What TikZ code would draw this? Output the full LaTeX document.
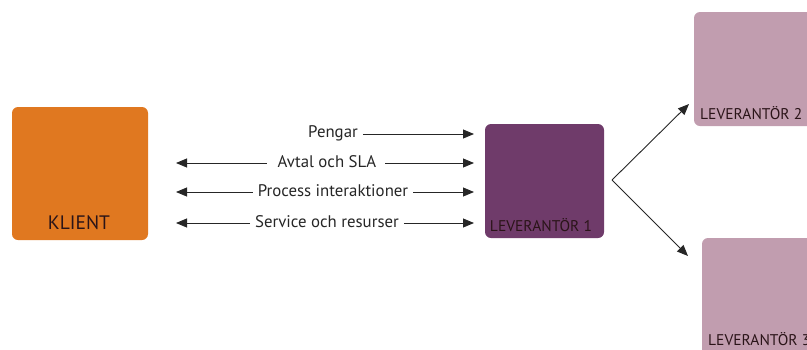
\documentclass[tikz,border=0pt]{standalone}
\usepackage{fontspec}
\setmainfont{PT Sans}
\usetikzlibrary{arrows.meta}
\definecolor{orangebox}{HTML}{E07820}
\definecolor{purplebox}{HTML}{6F3B6A}
\definecolor{pinkbox}{HTML}{C19DAF}
\definecolor{txtdark}{HTML}{2A1418}
\begin{document}
\begin{tikzpicture}[x=1pt,y=-1pt,
  box/.style={rounded corners=6pt,draw=none},
  lbl/.style={font=\fontsize{16.8}{18}\selectfont,text=black!85,inner sep=0pt,outer sep=5pt,anchor=center},
  boxlbl/.style={font=\fontsize{15.5}{17}\selectfont,text=txtdark,inner sep=0pt},
  arr/.style={-{Triangle[length=11pt,width=9pt]},line width=0.9pt,draw=black!85}]
\useasboundingbox (0,0) rectangle (807,349);
% boxes
\fill[box,orangebox] (12,107) rectangle (148,240);
\node[boxlbl,font=\fontsize{19.5}{21}\selectfont] (klient) at (79,223) {KLIENT};
\fill[box,purplebox] (485,124) rectangle (604,238);
\node[boxlbl] (lev1) at (541,225) {LEVERANTÖR 1};
\fill[box,pinkbox] (694,12) rectangle (815,126);
\node[boxlbl,anchor=west] (lev2) at (700,113) {LEVERANTÖR 2};
\fill[box,pinkbox] (702,238) rectangle (815,360);
\node[boxlbl,anchor=west] (lev3) at (708,339) {LEVERANTÖR 3};
% anchor coordinates
\coordinate (L1) at (176,163);
\coordinate (L2) at (176,192);
\coordinate (L3) at (176,223);
\coordinate (R0) at (474,134);
\coordinate (R1) at (474,163);
\coordinate (R2) at (474,192);
\coordinate (R3) at (474,223);
% labels
\node[lbl] (p) at (333,133) {Pengar};
\node[lbl] (a) at (327,162) {Avtal och SLA};
\node[lbl] (pi) at (333,191) {Process interaktioner};
\node[lbl] (s) at (327,222) {Service och resurser};
\draw[arr] (p.east |- R0) -- (R0);
\draw[arr] ([xshift=-6pt]a.west |- L1) -- (L1);
\draw[arr] ([xshift=4pt]a.east |- R1) -- (R1);
\draw[arr] (pi.west |- L2) -- (L2);
\draw[arr] (pi.east |- R2) -- (R2);
\draw[arr] (s.west |- L3) -- (L3);
\draw[arr] (s.east |- R3) -- (R3);
% fork
\coordinate (v) at (612,180);
\coordinate (t2) at (689,104);
\coordinate (t3) at (688,256);
\draw[arr] (v) -- (t2);
\draw[arr] (v) -- (t3);
\end{tikzpicture}
\end{document}
